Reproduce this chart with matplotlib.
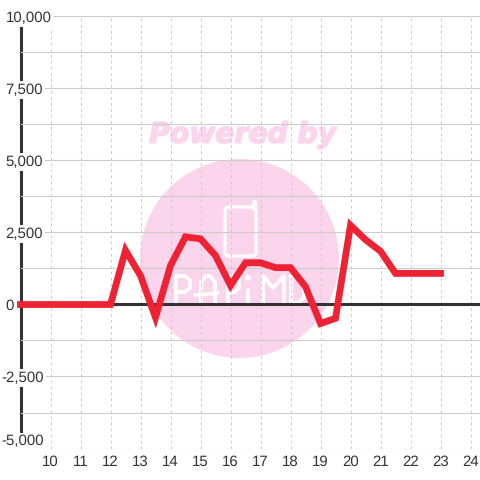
#!/usr/bin/env python3
"""Half-hourly line chart with a pale Powered by watermark behind it."""

import matplotlib
matplotlib.use("Agg")
import matplotlib.patheffects as pe
import matplotlib.pyplot as plt
from matplotlib.lines import Line2D
from matplotlib.patches import Circle, FancyBboxPatch

hours = [9, 9.5, 10, 10.5, 11, 11.5, 12, 12.5, 13, 13.5, 14, 14.5, 15, 15.5, 16, 16.5,
         17, 17.5, 18, 18.5, 19, 19.5, 20, 20.5, 21, 21.5, 22, 22.5, 23]
values = [0, 0, 0, 0, 0, 0, 0, 1880, 1000, -450, 1350, 2350, 2280, 1700, 660, 1450,
          1450, 1280, 1280, 620, -660, -480, 2750, 2250, 1850, 1080, 1080, 1080, 1080]
x_ticks = list(range(10, 25))
y_ticks = [-5000, -2500, 0, 2500, 5000, 7500, 10000]
y_labels = ["-5,000", "-2,500", "0", "2,500", "5,000", "7,500", "10,000"]
y_minor = [-3750, -1250, 1250, 3750, 6250, 8750]

SIZE = 480.0
PINK = "#fbd5ec"
TEXT = "#333333"
GRID = "#cccccc"

# thin logo lettering in the watermark, strokes in pixels
LOGO_STROKES = [
    [(176, 303), (176, 276), (185, 276), (190, 280), (190, 288), (185, 292), (176, 292)],
    [(201, 303), (201, 282), (206, 276), (210, 276), (215, 282), (215, 303)],
    [(195, 295), (218, 293)],
    [(228, 303), (228, 276), (235, 276), (239, 280), (239, 288), (235, 292), (228, 292)],
    [(248, 290), (248, 303)],
    [(263, 303), (263, 276), (273, 288), (284, 276), (284, 303)],
    [(291, 276), (299, 276), (304, 282), (304, 297), (299, 303), (291, 303), (291, 276)],
]


def fx(px):
    return px / SIZE


def fy(px):
    return 1.0 - px / SIZE


def logo_line(points, width=2.7):
    xs = [fx(p[0]) for p in points]
    ys = [fy(p[1]) for p in points]
    fig.add_artist(Line2D(xs, ys, transform=fig.transFigure, color="white", linewidth=width,
                          solid_capstyle="round", solid_joinstyle="round", zorder=-1))


plt.rcParams["font.family"] = ["Liberation Sans", "DejaVu Sans"]
plt.rcParams["text.hinting"] = "no_hinting"
plt.rcParams["text.hinting_factor"] = 1
fig = plt.figure(figsize=(4.8, 4.8), dpi=100, facecolor="white")

# watermark sits under the axes
fig.add_artist(Circle((fx(239.5), fy(258.5)), 99.5 / SIZE, transform=fig.transFigure,
                      facecolor=PINK, edgecolor="none", zorder=-2))
powered = fig.text(fx(242), fy(135), "Powered by", color=PINK, fontsize=20.3,
                   family="DejaVu Sans", fontweight="bold", fontstyle="oblique",
                   ha="center", va="center", zorder=-2)
powered.set_path_effects([pe.withStroke(linewidth=1.2, foreground=PINK)])
fig.add_artist(FancyBboxPatch((fx(229), fy(252)), 23 / SIZE, 41 / SIZE,
                              boxstyle=f"round,pad={4 / SIZE},rounding_size={4 / SIZE}",
                              transform=fig.transFigure, facecolor="none",
                              edgecolor="white", linewidth=2.2, zorder=-1))
logo_line([(254.5, 202), (254.5, 208)], width=3.6)
for stroke in LOGO_STROKES:
    logo_line(stroke)
fig.add_artist(Circle((fx(248), fy(278)), 3 / SIZE, transform=fig.transFigure,
                      facecolor="white", edgecolor="none", zorder=-1))

ax = fig.add_axes([fx(20.5), fy(448.5), (SIZE - 20.5) / SIZE, 432 / SIZE])
ax.patch.set_visible(False)
ax.set_xlim(9, 9 + (SIZE - 20.5) / 30)
ax.set_ylim(-5000, 10000)

ax.set_xticks(x_ticks)
ax.set_yticks(y_ticks, y_labels)
ax.set_yticks(y_minor, minor=True)
ax.set_axisbelow(True)
ax.grid(axis="y", which="both", color=GRID, linewidth=0.8)
ax.grid(axis="x", color=GRID, linewidth=0.7, linestyle=(0, (3, 3.2)))

ax.tick_params(axis="both", which="both", length=0)
ax.tick_params(axis="x", labelsize=10.8, labelcolor=TEXT, pad=4.8)
ax.tick_params(axis="y", labelsize=10.8, labelcolor=TEXT)

# labels start flush left, the minus sign hangs out past the digits
for tick, label, value in zip(ax.yaxis.get_major_ticks(), ax.get_yticklabels(), y_ticks):
    tick.set_pad(10.8 if value >= 0 else 13.7)
    label.set_ha("left")
    label.set_bbox(dict(facecolor="white", edgecolor="none", pad=1.2))
    if value == y_ticks[0]:
        label.set_va("bottom")

for name in ("top", "right", "bottom"):
    ax.spines[name].set_visible(False)
ax.spines["left"].set_color(TEXT)
ax.spines["left"].set_linewidth(2.2)
ax.spines["left"].set_capstyle("butt")
ax.spines["left"].set_zorder(0.4)

ax.axhline(0, color=TEXT, linewidth=2.2, zorder=1)
ax.plot(hours, values, color="#ee2233", linewidth=4.9, solid_joinstyle="miter",
        solid_capstyle="projecting", clip_on=False, zorder=3)

fig.savefig("out.png", dpi=100)
